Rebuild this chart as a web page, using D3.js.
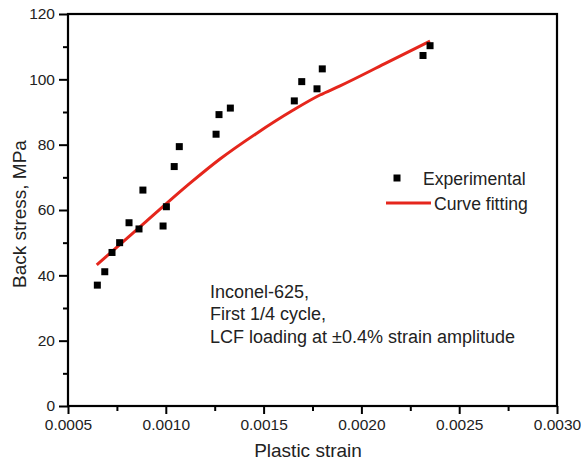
<!DOCTYPE html>
<html><head><meta charset="utf-8">
<script src="https://cdn.jsdelivr.net/npm/d3@7"></script>
<style>
body{margin:0;background:#fff;}
text{font-family:Arial,"Liberation Sans",sans-serif;fill:#222;}
</style></head>
<body><svg id="c" width="581" height="462"></svg>
<script>
// Experimental data (plastic strain, back stress MPa)
const expStrain = [0.000650,0.000688,0.000725,0.000764,0.000812,0.000863,0.000883,0.000986,0.001003,0.001043,0.001069,0.001257,0.001272,0.001330,0.001657,0.001695,0.001773,0.001800,0.002315,0.002351];
const expStress = [37.0,41.1,47.0,50.0,56.1,54.2,66.1,55.1,61.0,73.3,79.4,83.2,89.2,91.2,93.4,99.3,97.1,103.2,107.3,110.3];
// Curve fitting points
const fitStrain = [0.000647,0.000900,0.001124,0.001277,0.001460,0.001652,0.001788,0.001891,0.002120,0.002351];
const fitStress = [43.2,56.5,68.2,75.6,83.3,90.6,95.2,98.0,104.8,111.7];
const xTicks = [0.0005,0.0010,0.0015,0.0020,0.0025,0.0030];
const xMinor = [0.00075,0.00125,0.00175,0.00225,0.00275];
const yTicks = [0,20,40,60,80,100,120];
const yMinor = [10,30,50,70,90,110];
const legendLabels = ["Experimental","Curve fitting"];
const noteLines = ["Inconel-625,","First 1/4 cycle,","LCF loading at \u00b10.4% strain amplitude"];

const svg = d3.select("#c");
const L=68,R=557,T=14,B=406;
const x = d3.scaleLinear().domain([0.0005,0.0030]).range([L,R]);
const y = d3.scaleLinear().domain([0,120]).range([B,T]);
const red = "#e5261c";

// axes
const xAxis = d3.axisBottom(x).tickValues(xTicks).tickFormat(d3.format(".4f")).tickSize(8).tickPadding(5);
const gx = svg.append("g").attr("transform",`translate(0,${B})`).call(xAxis);
gx.selectAll("text").style("font-size","15.5px").attr("fill","#222");
const gxm = svg.append("g").attr("transform",`translate(0,${B})`).call(d3.axisBottom(x).tickValues(xMinor).tickFormat("").tickSize(5));
const yAxis = d3.axisLeft(y).tickValues(yTicks).tickSize(9).tickPadding(4);
const gy = svg.append("g").attr("transform",`translate(${L},0)`).call(yAxis);
gy.selectAll("text").style("font-size","15.5px").attr("fill","#222");
const gym = svg.append("g").attr("transform",`translate(${L},0)`).call(d3.axisLeft(y).tickValues(yMinor).tickFormat("").tickSize(5));
[gx,gxm,gy,gym].forEach(g=>{g.select(".domain").remove();g.selectAll("line").attr("stroke","#000").attr("stroke-width",2);});

// frame
svg.append("rect").attr("x",L).attr("y",T).attr("width",R-L).attr("height",B-T)
  .attr("fill","none").attr("stroke","#000").attr("stroke-width",2.2);

// fit curve
const line = d3.line().x(d=>x(d[0])).y(d=>y(d[1])).curve(d3.curveMonotoneX);
svg.append("path").datum(fitStrain.map((s,i)=>[s,fitStress[i]]))
  .attr("d",line).attr("fill","none").attr("stroke",red).attr("stroke-width",3);

// points
const sz=7;
svg.append("g").selectAll("rect").data(expStrain.map((s,i)=>[s,expStress[i]])).join("rect")
  .attr("x",d=>x(d[0])-sz/2).attr("y",d=>y(d[1])-sz/2).attr("width",sz).attr("height",sz).attr("fill","#000");

// legend
svg.append("rect").attr("x",397-sz/2).attr("y",178-sz/2).attr("width",sz).attr("height",sz).attr("fill","#000");
svg.append("line").attr("x1",386).attr("x2",431).attr("y1",203).attr("y2",203).attr("stroke",red).attr("stroke-width",3);
svg.append("text").attr("x",423).attr("y",185).style("font-size","17.6px").text(legendLabels[0]);
svg.append("text").attr("x",434).attr("y",210).style("font-size","17.6px").text(legendLabels[1]);

// annotation
noteLines.forEach((t,i)=>svg.append("text").attr("x",210).attr("y",298+i*22.3).style("font-size","18px").text(t));

// axis titles
svg.append("text").attr("x",308).attr("y",457).attr("text-anchor","middle").style("font-size","19px").text("Plastic strain");
svg.append("text").attr("transform","translate(26,214) rotate(-90)").attr("text-anchor","middle").style("font-size","19px").text("Back stress, MPa");
</script></body></html>
